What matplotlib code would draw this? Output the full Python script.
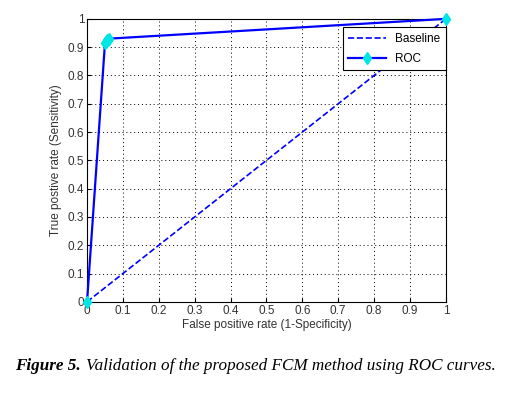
import matplotlib
matplotlib.use("Agg")
import matplotlib.pyplot as plt
import numpy as np

# ROC points
fpr = [0.0, 0.050, 0.052, 0.055, 0.058, 0.060, 1.0]
tpr = [0.0, 0.915, 0.920, 0.924, 0.927, 0.930, 1.0]
base_x = [0.0, 1.0]
base_y = [0.0, 1.0]
ticks = np.round(np.arange(0, 1.01, 0.1), 1)
tick_labels = ["0", "0.1", "0.2", "0.3", "0.4", "0.5", "0.6", "0.7", "0.8", "0.9", "1"]

plt.rcParams["font.family"] = ["Liberation Sans", "DejaVu Sans"]

fig = plt.figure(figsize=(5.09, 3.93), dpi=100)
ax = fig.add_axes([0.171, 0.232, 0.705, 0.720])

ax.plot(base_x, base_y, "--", color="#0000ff", lw=1.2, label="Baseline")
ax.plot(fpr, tpr, "-", color="#0000ff", lw=1.6, marker="d", markersize=6.5,
        markerfacecolor="#00e5e5", markeredgecolor="#00e5e5", label="ROC",
        clip_on=False, zorder=3)

ax.set_xlim(0, 1)
ax.set_ylim(0, 1)
ax.set_xticks(ticks)
ax.set_yticks(ticks)
ax.set_xticklabels(tick_labels, fontsize=8.5)
ax.set_yticklabels(tick_labels, fontsize=8.5)
ax.tick_params(direction="in", length=3, pad=2, labelcolor="#333333")
ax.grid(True, linestyle=(0, (1, 3)), color="black", lw=0.7)
for s in ax.spines.values():
    s.set_linewidth(0.8)

ax.set_xlabel("False positive rate (1-Specificity)", fontsize=8.5, labelpad=2,
              color="#333333")
ax.set_ylabel("True postive rate (Sensitivity)", fontsize=8.5, labelpad=4,
              color="#333333")

leg = ax.legend(loc="upper right", bbox_to_anchor=(1.0, 0.97), borderaxespad=0,
                fontsize=8.5, fancybox=False, framealpha=1, edgecolor="black",
                borderpad=0.45, handlelength=3.2, labelspacing=0.7)
leg.get_frame().set_linewidth(0.8)

fig.text(0.030, 0.058, "Figure 5.", fontsize=12.3, fontweight="bold",
         fontstyle="italic", family="Liberation Serif", ha="left")
fig.text(0.169, 0.058, "Validation of the proposed FCM method using ROC curves.",
         fontsize=12.3, fontstyle="italic", family="Liberation Serif", ha="left")

plt.savefig("out.png", dpi=100)
plt.close()
